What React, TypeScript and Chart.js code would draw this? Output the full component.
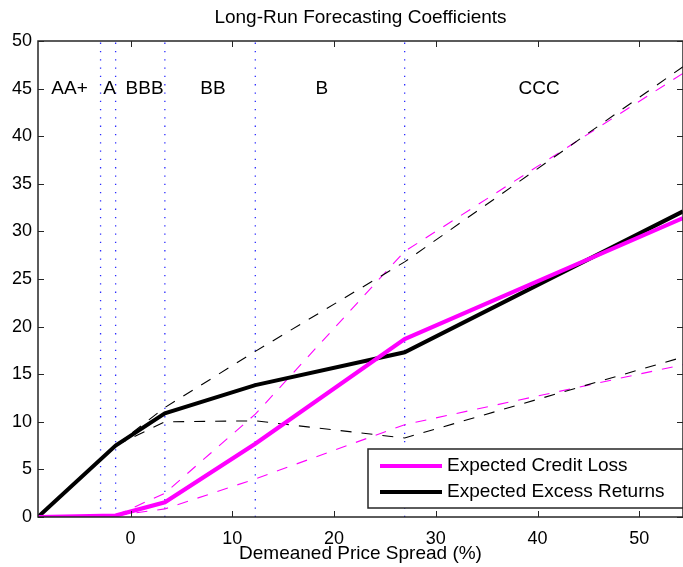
import React, { useEffect, useRef } from "react";
import { Chart, registerables } from "chart.js";

Chart.register(...registerables);

// ---- data ----
const titleText = "Long-Run Forecasting Coefficients";
const xTitleText = "Demeaned Price Spread (%)";
const creditLabel = "Expected Credit Loss";
const excessLabel = "Expected Excess Returns";

const knotX = [-9.1, -1.47, 3.37, 12.26, 26.94, 54.3];
const creditLoss = [0, 0.15, 1.55, 7.7, 18.7, 31.4];
const excessReturns = [0, 7.5, 10.9, 13.85, 17.3, 32.1];

const bandX = [-1.47, 3.37, 12.26, 26.94, 54.3];
const creditUpper = [0.15, 2.5, 10.8, 27.9, 46.6];
const creditLower = [0.15, 0.85, 4.0, 9.7, 16.0];
const excessUpper = [7.5, 11.5, 17.4, 26.8, 47.3];
const excessLower = [7.5, 10.0, 10.1, 8.3, 16.8];

const boundaryX = [-2.95, -1.47, 3.37, 12.26, 26.94];
const ratingLabels = ["AA+", "A", "BBB", "BB", "B", "CCC"];
const ratingX = [-6.0, -2.06, 1.38, 8.1, 18.8, 40.15];
const ratingY = 45;

const xTicks = [0, 10, 20, 30, 40, 50];
const xMin = -9.1;
const xMax = 54.3;
const yMin = 0;
const yMax = 50;
const yStep = 5;

const MAGENTA = "#ff00ff";
const BLACK = "#000000";
const BLUE = "rgba(20,20,255,0.9)";
const FONT = '"Liberation Sans", Arial, Helvetica, sans-serif';

const pts = (xs: number[], ys: number[]) => xs.map((x, i) => ({ x, y: ys[i] }));

const decor = {
  id: "decor",
  afterDatasetsDraw(chart: any) {
    const { ctx, chartArea: a, scales } = chart;
    const x = scales.x;
    const y = scales.y;
    ctx.save();
    // rating labels
    ctx.font = `19px ${FONT}`;
    ctx.fillStyle = "#000";
    ctx.textAlign = "center";
    ctx.textBaseline = "middle";
    ratingLabels.forEach((t, i) => {
      ctx.fillText(t, x.getPixelForValue(ratingX[i]), y.getPixelForValue(ratingY));
    });
    // box
    ctx.strokeStyle = "#262626";
    ctx.lineWidth = 1.5;
    ctx.strokeRect(a.left, a.top, a.right - a.left, a.bottom - a.top);
    // inward ticks
    const tl = 6;
    ctx.beginPath();
    x.ticks.forEach((t: any) => {
      const px = Math.round(x.getPixelForValue(t.value)) + 0.5;
      ctx.moveTo(px, a.bottom);
      ctx.lineTo(px, a.bottom - tl);
      ctx.moveTo(px, a.top);
      ctx.lineTo(px, a.top + tl);
    });
    y.ticks.forEach((t: any) => {
      const py = Math.round(y.getPixelForValue(t.value)) + 0.5;
      ctx.moveTo(a.left, py);
      ctx.lineTo(a.left + tl, py);
      ctx.moveTo(a.right, py);
      ctx.lineTo(a.right - tl, py);
    });
    ctx.lineWidth = 1;
    ctx.stroke();

    // legend
    const lw = 315;
    const lh = 59;
    const lx = a.right - lw;
    const ly = a.bottom - 9 - lh;
    ctx.fillStyle = "#fff";
    ctx.fillRect(lx, ly, lw, lh);
    ctx.strokeStyle = "#262626";
    ctx.lineWidth = 1.5;
    ctx.strokeRect(lx, ly, lw, lh);
    const entries = [
      { label: creditLabel, color: MAGENTA },
      { label: excessLabel, color: BLACK },
    ];
    entries.forEach((e, i) => {
      const yy = ly + 17 + i * 26;
      ctx.strokeStyle = e.color;
      ctx.lineWidth = 4;
      ctx.beginPath();
      ctx.moveTo(lx + 12, yy);
      ctx.lineTo(lx + 74, yy);
      ctx.stroke();
      ctx.fillStyle = "#000";
      ctx.textAlign = "left";
      ctx.font = `19px ${FONT}`;
      ctx.fillText(e.label, lx + 79, yy);
    });

    // title & x-axis title
    ctx.fillStyle = "#000";
    ctx.textAlign = "center";
    ctx.font = `19px ${FONT}`;
    const cx = (a.left + a.right) / 2;
    ctx.fillText(titleText, cx, 18);
    ctx.fillText(xTitleText, cx, 554);
    ctx.restore();
  },
};

export default function App() {
  const ref = useRef<HTMLCanvasElement | null>(null);

  useEffect(() => {
    document.body.style.margin = "0";
    const canvas = ref.current;
    if (!canvas) return;

    const boundarySets = boundaryX.map((bx) => ({
      data: [
        { x: bx, y: yMin },
        { x: bx, y: yMax },
      ],
      borderColor: BLUE,
      borderWidth: 1.3,
      borderDash: [1.3, 7],
      pointRadius: 0,
      fill: false,
      order: 4,
    }));

    const dashed = (xs: number[], ys: number[], color: string) => ({
      data: pts(xs, ys),
      borderColor: color,
      borderWidth: 1.1,
      borderDash: [11, 10],
      pointRadius: 0,
      fill: false,
      tension: 0,
      order: 3,
    });

    const chart = new Chart(canvas, {
      type: "line",
      data: {
        datasets: [
          {
            label: creditLabel,
            data: pts(knotX, creditLoss),
            borderColor: MAGENTA,
            borderWidth: 4.2,
            pointRadius: 0,
            fill: false,
            tension: 0,
            order: 0,
          },
          {
            label: excessLabel,
            data: pts(knotX, excessReturns),
            borderColor: BLACK,
            borderWidth: 4,
            pointRadius: 0,
            fill: false,
            tension: 0,
            order: 1,
          },
          dashed(bandX, excessUpper, BLACK),
          dashed(bandX, excessLower, BLACK),
          dashed(bandX, creditUpper, MAGENTA),
          dashed(bandX, creditLower, MAGENTA),
          ...boundarySets,
        ] as any,
      },
      options: {
        animation: false,
        responsive: false,
        devicePixelRatio: 1,
        layout: { padding: { top: 41, right: 0, left: 0, bottom: 0 } },
        plugins: {
          legend: { display: false },
          title: { display: false },
          tooltip: { enabled: false },
        },
        scales: {
          x: {
            type: "linear",
            min: xMin,
            max: xMax,
            grid: { display: false, drawTicks: false },
            border: { display: false },
            afterBuildTicks: (s: any) => {
              s.ticks = xTicks.map((v) => ({ value: v }));
            },
            afterFit: (s: any) => {
              s.height = 50;
            },
            ticks: {
              padding: 11,
              color: "#000",
              font: { family: FONT, size: 18 },
              maxRotation: 0,
            },
          },
          y: {
            type: "linear",
            min: yMin,
            max: yMax,
            grid: { display: false, drawTicks: false },
            border: { display: false },
            afterFit: (s: any) => {
              s.width = 38;
            },
            ticks: {
              stepSize: yStep,
              padding: 6,
              color: "#000",
              font: { family: FONT, size: 18 },
            },
          },
        },
      },
      plugins: [decor],
    });

    return () => chart.destroy();
  }, []);

  return (
    <div style={{ position: "absolute", left: 0, top: 0, width: 683, height: 567, background: "#fff" }}>
      <canvas ref={ref} width={683} height={567} style={{ width: 683, height: 567, display: "block" }} />
    </div>
  );
}
